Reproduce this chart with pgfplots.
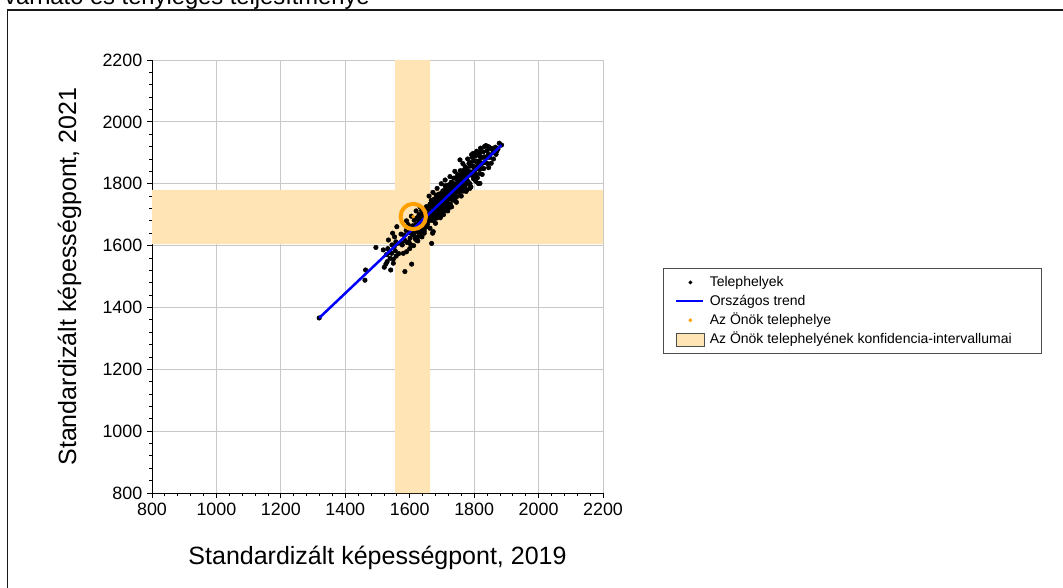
\documentclass[border=0pt]{standalone}
\usepackage{fontspec}
\setmainfont{Liberation Sans}
\usepackage{pgfplots}
\usepackage{pgfplotstable}
\pgfplotsset{compat=1.18}
\definecolor{bandc}{RGB}{255,228,181}
\definecolor{ringc}{RGB}{255,160,0}
\definecolor{gridc}{RGB}{200,200,200}
\pgfplotsset{layers/mylayers/.define layer set={axis background,axis grid,main,axis ticks,axis lines,axis tick labels,axis descriptions,axis foreground}{}}

\pgfplotstableread{
x y
1319 1366
1461 1488
1463 1521
1495 1594
1518 1586
1521 1530
1526 1540
1528 1571
1530 1548
1532 1590
1534 1618
1536 1577
1539 1559
1541 1521
1544 1575
1545 1602
1547 1640
1549 1556
1549 1543
1552 1597
1553 1628
1555 1583
1557 1612
1558 1566
1560 1661
1575 1607
1585 1516
1606 1540
1601 1624
1611 1640
1653 1661
1663 1656
1668 1607
1671 1640
1673 1645
1725 1823
1756 1877
1777 1780
1787 1785
1797 1898
1813 1801
1818 1801
1839 1922
1859 1912
1862 1903
1866 1918
1868 1895
1870 1905
1874 1912
1878 1931
1885 1925
1590 1580
1600 1590
1612 1600
1625 1615
1638 1628
1645 1640
1590 1680
1605 1695
1620 1712
1632 1725
1660 1760
1672 1772
1685 1785
1698 1800
1710 1812
1740 1840
1680 1672
1695 1690
1705 1700
1718 1712
1730 1725
1745 1740
1765 1865
1780 1880
1792 1894
1808 1905
1820 1915
1832 1920
1760 1760
1775 1775
1790 1790
1805 1808
1825 1830
1845 1852
1860 1880
1562 1607
1566 1574
1570 1608
1573 1637
1577 1602
1580 1575
1583 1634
1586 1616
1589 1649
1592 1610
1595 1668
1598 1611
1600 1642
1603 1603
1606 1639
1609 1664
1612 1634
1614 1682
1617 1622
1619 1667
1620 1652
1621 1617
1622 1663
1623 1690
1624 1645
1625 1671
1626 1629
1627 1685
1628 1664
1629 1700
1630 1646
1631 1680
1632 1661
1633 1697
1634 1642
1635 1679
1636 1660
1637 1713
1638 1672
1639 1694
1640 1652
1641 1681
1642 1704
1643 1669
1644 1696
1645 1647
1646 1714
1647 1678
1648 1705
1649 1668
1650 1695
1651 1660
1652 1726
1653 1690
1654 1702
1655 1669
1656 1722
1657 1685
1658 1717
1659 1681
1660 1687
1661 1725
1662 1695
1663 1734
1664 1683
1665 1718
1666 1708
1667 1746
1668 1682
1669 1719
1670 1694
1671 1733
1672 1708
1673 1746
1674 1681
1675 1732
1676 1707
1677 1744
1678 1723
1679 1696
1680 1740
1681 1720
1682 1763
1683 1712
1684 1733
1685 1698
1686 1755
1687 1721
1688 1742
1689 1710
1690 1766
1691 1732
1692 1755
1693 1701
1694 1745
1695 1721
1696 1768
1697 1743
1698 1699
1699 1736
1664 1719
1668 1686
1672 1720
1676 1750
1680 1715
1684 1689
1688 1749
1692 1732
1696 1766
1698 1726
1700 1755
1701 1719
1702 1750
1703 1777
1704 1739
1705 1710
1706 1767
1707 1747
1708 1778
1709 1737
1710 1793
1711 1734
1712 1764
1713 1723
1714 1757
1715 1780
1716 1748
1717 1795
1718 1733
1719 1777
1720 1757
1721 1722
1722 1768
1723 1795
1724 1750
1725 1776
1726 1734
1727 1790
1728 1769
1729 1805
1730 1751
1731 1785
1732 1766
1733 1802
1734 1747
1735 1784
1736 1765
1737 1818
1738 1777
1739 1799
1702 1719
1706 1751
1710 1777
1714 1745
1718 1775
1722 1729
1726 1799
1730 1766
1734 1796
1738 1762
1740 1781
1741 1746
1742 1792
1743 1819
1744 1774
1745 1800
1746 1758
1747 1814
1748 1793
1749 1829
1750 1775
1751 1809
1752 1790
1753 1826
1754 1771
1755 1808
1756 1789
1757 1842
1758 1801
1759 1823
1760 1781
1761 1810
1762 1833
1763 1798
1764 1825
1765 1776
1766 1843
1767 1807
1768 1834
1769 1797
1770 1824
1771 1789
1772 1855
1773 1819
1774 1831
1775 1798
1776 1851
1777 1814
1778 1846
1780 1843
1781 1807
1783 1839
1784 1866
1785 1828
1787 1800
1788 1857
1790 1838
1791 1869
1792 1828
1794 1885
1795 1826
1797 1857
1798 1816
1800 1851
1801 1874
1803 1843
1804 1890
1806 1829
1807 1873
1809 1854
1810 1819
1811 1865
1813 1893
1814 1848
1815 1874
1817 1833
1818 1889
1819 1868
1820 1904
1822 1849
1824 1884
1826 1866
1828 1903
1830 1849
1832 1887
1834 1869
1836 1923
1838 1883
1840 1906
1842 1865
1844 1895
1846 1919
1848 1885
1851 1914
1853 1866
1855 1914
1858 1900
}\sites

\begin{document}
\begin{tikzpicture}[x=1pt,y=1pt]
\begin{axis}[
  set layers=mylayers,
  clip marker paths=true,
  at={(114pt,70.5pt)}, anchor=south west,
  scale only axis, width=338.25pt, height=324.75pt,
  xmin=800, xmax=2200, ymin=800, ymax=2200,
  xtick={800,1000,...,2200}, ytick={800,1000,...,2200},
  minor tick num=4,
  axis x line*=bottom, axis y line*=left,
  axis line style={black, line width=0.75pt, -},
  tick align=outside, major tick length=3.75pt, minor tick length=2.25pt,
  tick style={black, line width=0.6pt},
  grid=major, major grid style={gridc, line width=0.75pt},
  /pgf/number format/1000 sep={}, /pgf/number format/assume math mode=true,
  ticklabel style={font=\fontsize{13.4}{15}\selectfont},
  xlabel={Standardizált képességpont, 2019},
  ylabel={Standardizált képességpont, 2021},
  label style={font=\fontsize{18.75}{22}\selectfont},
  xlabel style={at={(axis description cs:0.5,-0.166)}, anchor=base},
  ylabel style={at={(axis description cs:-0.168,0.5)}, anchor=base},
  legend style={at={(axis description cs:1.1330,0.5196)}, anchor=north west,
    draw=black!70, line width=0.6pt, font=\fontsize{10.5}{12}\selectfont,
    inner xsep=9pt, inner ysep=5.5pt, row sep=4.2pt, column sep=3.75pt,
    nodes={inner sep=0pt, text height=7.8pt, text depth=2.2pt}},
  legend cell align=left,
]
% confidence bands
\addplot[fill=bandc, draw=none, forget plot] coordinates {(1555,800) (1663,800) (1663,2200) (1555,2200) (1555,800)};
\addplot[fill=bandc, draw=none, forget plot] coordinates {(800,1605) (2200,1605) (2200,1780) (800,1780) (800,1605)};
% sites
\addplot[only marks, mark=*, mark size=1.7pt, black, forget plot] table {\sites};
% national trend
\addplot[blue, line width=1.9pt, forget plot] coordinates {(1319,1366) (1885,1925)};
% own site
\addplot[only marks, mark=o, mark size=9.5pt, mark options={line width=3pt, draw=ringc}, forget plot] coordinates {(1611,1694)};
\addplot[only marks, mark=*, mark size=1.1pt, ringc, forget plot] coordinates {(1611,1694)};
% legend
\addlegendimage{legend image code/.code={\fill[black] (10.5pt,0pt) circle (1.1pt);}}
\addlegendentry{Telephelyek}
\addlegendimage{legend image code/.code={\draw[blue, line width=1.5pt] (0pt,0pt) -- (20pt,0pt);}}
\addlegendentry{Országos trend}
\addlegendimage{legend image code/.code={\fill[ringc] (10.5pt,0pt) circle (1.1pt);}}
\addlegendentry{Az Önök telephelye}
\addlegendimage{legend image code/.code={\draw[fill=bandc, draw=black!70, line width=0.6pt] (0pt,-4.9pt) rectangle (21pt,4.9pt);}}
\addlegendentry{Az Önök telephelyének konfidencia-intervallumai\hspace*{13.5pt}}
\end{axis}
% outer frame and cut-off title
\draw[black!90, line width=1.3pt] (5.6pt,-5pt) -- (5.6pt,432.6pt) -- (805pt,432.6pt);
\node[anchor=base east, font=\fontsize{17.8}{22}\selectfont, inner sep=0pt] at (277.5pt,437pt) {várható és tényleges teljesítménye};
\pgfresetboundingbox
\path[use as bounding box] (0,0) rectangle (797.25pt,440.25pt);
\end{tikzpicture}
\end{document}
